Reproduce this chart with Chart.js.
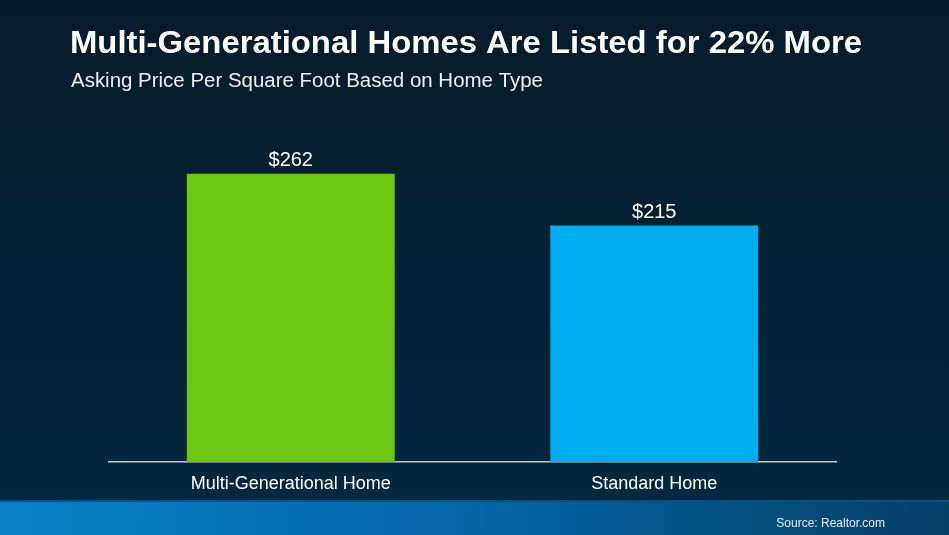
<!DOCTYPE html>
<html>
<head>
<meta charset="utf-8">
<script src="https://cdn.jsdelivr.net/npm/chart.js@4.4.1/dist/chart.umd.min.js"></script>
<style>
html,body{margin:0;padding:0;background:#061e31;}
#wrap{width:949px;height:535px;position:relative;}
</style>
</head>
<body>
<div id="wrap"><canvas id="c" width="949" height="535"></canvas></div>
<script>
const categories = ['Multi-Generational Home', 'Standard Home'];
const prices = [262, 215];
const valueLabels = ['$262', '$215'];
const barColors = ['#6cc713', '#00adee'];
const titleText = 'Multi-Generational Homes Are Listed for 22% More';
const subtitleText = 'Asking Price Per Square Foot Based on Home Type';
const sourceText = 'Source: Realtor.com';

const FONT = '"Liberation Sans", Arial, Helvetica, sans-serif';

function fittedText(ctx, text, x, y, font, color, targetWidth) {
  ctx.save();
  ctx.font = font;
  ctx.fillStyle = color;
  ctx.textAlign = 'left';
  ctx.textBaseline = 'alphabetic';
  const w = ctx.measureText(text).width;
  const sx = targetWidth / w;
  ctx.translate(x, y);
  ctx.scale(sx, 1);
  ctx.fillText(text, 0, 0);
  ctx.restore();
}

const bgPlugin = {
  id: 'bg',
  beforeDraw(chart) {
    const ctx = chart.ctx, w = chart.width, h = chart.height;
    ctx.save();
    const g = ctx.createLinearGradient(0, 0, 0, 500);
    g.addColorStop(0, '#071b2b');
    g.addColorStop(1, '#04283f');
    ctx.fillStyle = g;
    ctx.fillRect(0, 0, w, 500);
    const b = ctx.createLinearGradient(0, 500, w, 535);
    b.addColorStop(0, '#0781c9');
    b.addColorStop(0.5, '#0566a6');
    b.addColorStop(1, '#053f66');
    ctx.fillStyle = b;
    ctx.fillRect(0, 500, w, 35);
    ctx.fillStyle = '#0a4f80';
    ctx.fillRect(0, 500, w, 2);
    ctx.restore();
    fittedText(ctx, titleText, 70, 53, 'bold 32px ' + FONT, '#ffffff', 792);
    fittedText(ctx, subtitleText, 71, 87, '20px ' + FONT, '#f0f0f0', 472);
  }
};

const labelPlugin = {
  id: 'vlabels',
  afterDatasetsDraw(chart) {
    const ctx = chart.ctx;
    const meta = chart.getDatasetMeta(0);
    ctx.save();
    ctx.fillStyle = '#ffffff';
    ctx.font = '20px ' + FONT;
    ctx.textAlign = 'center';
    ctx.textBaseline = 'alphabetic';
    meta.data.forEach((bar, i) => {
      ctx.fillText(valueLabels[i], bar.x, bar.y - 8);
    });
    ctx.font = '12px ' + FONT;
    ctx.textAlign = 'right';
    ctx.fillStyle = '#e8eef4';
    ctx.fillText(sourceText, 885, 527);
    ctx.restore();
  }
};

new Chart(document.getElementById('c'), {
  type: 'bar',
  data: {
    labels: categories,
    datasets: [{
      data: prices,
      backgroundColor: barColors,
      borderWidth: 0,
      barPercentage: 0.572,
      categoryPercentage: 1.0
    }]
  },
  options: {
    responsive: false,
    animation: false,
    devicePixelRatio: 1,
    layout: { padding: { top: 132, left: 70, right: 113, bottom: 0 } },
    plugins: {
      legend: { display: false },
      tooltip: { enabled: false },
      title: { display: false },
      subtitle: { display: false }
    },
    scales: {
      x: {
        grid: { display: false },
        border: { display: true, color: '#c8c8c8', width: 1.5 },
        ticks: { color: '#ffffff', font: { family: FONT, size: 18 }, padding: 3 },
        afterFit(scale) { scale.height = 73; }
      },
      y: {
        min: 0,
        max: 300,
        display: true,
        grid: { display: false },
        border: { display: false },
        ticks: { display: false },
        afterFit(scale) { scale.width = 39; }
      }
    }
  },
  plugins: [bgPlugin, labelPlugin]
});
</script>
</body>
</html>
